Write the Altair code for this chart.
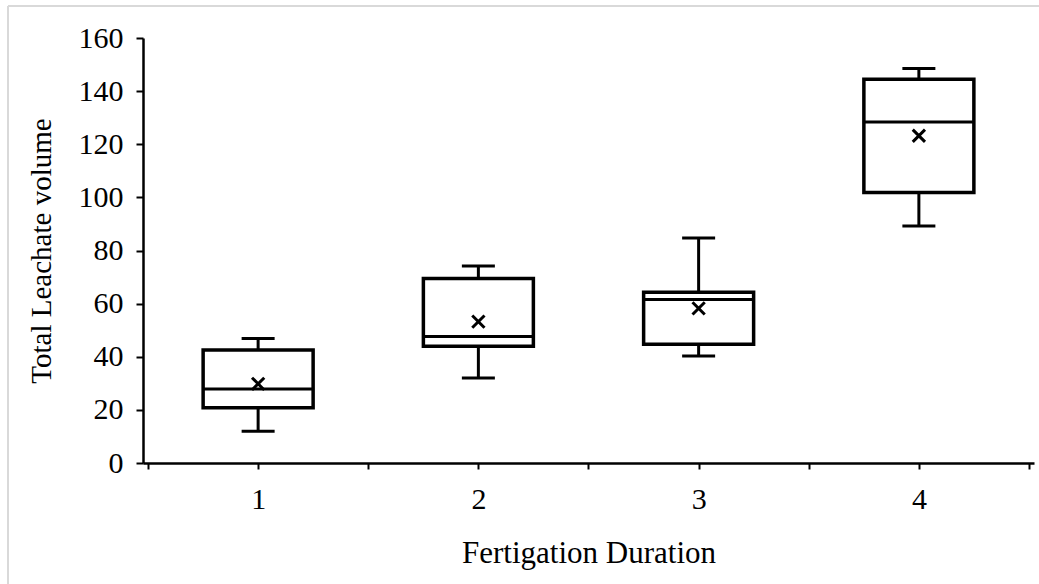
import altair as alt
import pandas as pd

# Data
durations = [1, 2, 3, 4]
mins = [12, 32, 40.3, 89.2]
q1s = [20.8, 44, 44.7, 101.8]
medians = [27.9, 47.6, 61.6, 128.4]
q3s = [42.5, 69.5, 64.3, 144.5]
maxs = [46.9, 74.2, 84.7, 148.5]
means = [29.8, 53.2, 58.2, 123.2]

y_ticks = [0, 20, 40, 60, 80, 100, 120, 140, 160]
x_ticks = [0.5, 1, 1.5, 2, 2.5, 3, 3.5, 4, 4.5]

df = pd.DataFrame({
    "dur": durations, "min": mins, "q1": q1s, "med": medians,
    "q3": q3s, "max": maxs, "mean": means,
})

FONT = "Liberation Serif"
W, H = 891, 425

x = alt.X("dur:Q", scale=alt.Scale(domain=[0.5, 4.5], nice=False, zero=False),
          axis=alt.Axis(values=x_ticks, title="Fertigation Duration",
                        labelExpr="datum.value % 1 == 0 ? datum.value : ''",
                        grid=False, domainColor="black", domainWidth=2.5,
                        tickColor="black", tickWidth=2, tickSize=6,
                        labelFont=FONT, labelFontSize=30, labelColor="black",
                        labelPadding=15, titleFont=FONT, titleFontSize=31,
                        titleFontWeight="normal", titleColor="black",
                        titlePadding=24))
y_scale = alt.Scale(domain=[0, 160], nice=False)
y_axis = alt.Axis(values=y_ticks, title="Total Leachate volume", grid=False,
                  domainColor="black", domainWidth=2.5, tickColor="black",
                  tickWidth=2, tickSize=7, labelFont=FONT, labelFontSize=30,
                  labelColor="black", labelPadding=13, titleFont=FONT,
                  titleFontSize=29, titleFontWeight="normal", titleColor="black",
                  titlePadding=22)

base = alt.Chart(df)

whisk_hi = base.mark_rule(color="black", strokeWidth=3).encode(
    x=x, y=alt.Y("q3:Q", scale=y_scale, axis=y_axis), y2="max:Q")
whisk_lo = base.mark_rule(color="black", strokeWidth=3).encode(
    x="dur:Q", y="min:Q", y2="q1:Q")
cap_hi = base.mark_tick(orient="horizontal", size=33, thickness=3, color="black", opacity=1).encode(
    x="dur:Q", y="max:Q")
cap_lo = base.mark_tick(orient="horizontal", size=33, thickness=3, color="black", opacity=1).encode(
    x="dur:Q", y="min:Q")
box = base.mark_bar(size=110, fill="white", stroke="black", strokeWidth=3.5).encode(
    x="dur:Q", y="q1:Q", y2="q3:Q")
med = base.mark_tick(orient="horizontal", size=112, thickness=3, color="black", opacity=1).encode(
    x="dur:Q", y="med:Q")
mean = base.mark_point(shape="M-1,-1L1,1M-1,1L1,-1", size=150, strokeWidth=3,
                       color="black", filled=False, opacity=1).encode(
    x="dur:Q", y="mean:Q")

frame_left = base.mark_rule(color="#d9d9d9", strokeWidth=2, clip=False).encode(
    x=alt.value(-135), y=alt.value(-32), y2=alt.value(H + 130))
frame_top = base.mark_rule(color="#d9d9d9", strokeWidth=2, clip=False).encode(
    x=alt.value(-135), x2=alt.value(W + 10), y=alt.value(-32))

chart = alt.layer(whisk_hi, whisk_lo, cap_hi, cap_lo, box, med, mean,
                  frame_left, frame_top).properties(
    width=W, height=H,
    autosize=alt.AutoSizeParams(type="none"),
    padding={"left": 143, "top": 38, "right": 5, "bottom": 121},
).configure(background="white", view=alt.ViewConfig(stroke=None))

chart.save("out.html", embed_options={"renderer": "svg", "actions": False})
